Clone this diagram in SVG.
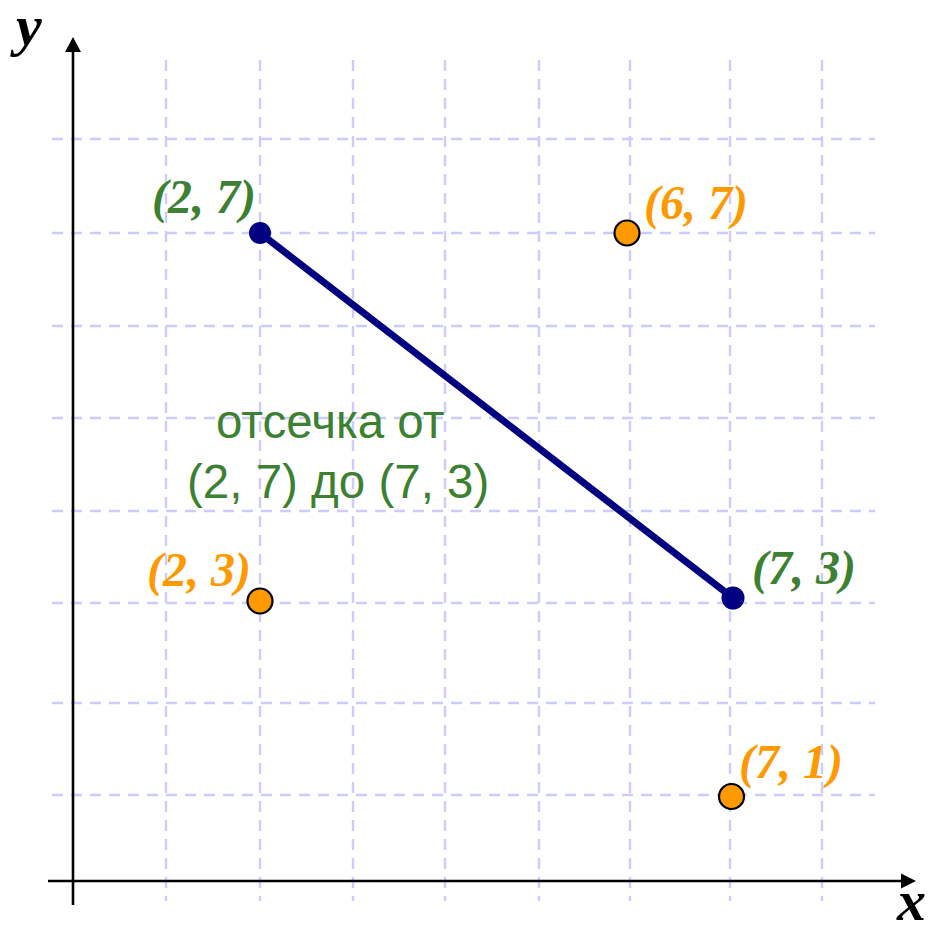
<svg xmlns="http://www.w3.org/2000/svg" width="930" height="925" viewBox="0 0 930 925">
<style>
.grid{stroke:#ccccff;stroke-width:2.4;stroke-dasharray:11 8;fill:none}
.axis{stroke:#000;stroke-width:2.6;fill:none}
.lbl{font-family:"Liberation Serif","Times New Roman",serif;font-style:italic;font-weight:bold;font-size:48px}
.green{fill:#3c8032}
.orange{fill:#ff9900}
.ax{font-family:"Liberation Serif","Times New Roman",serif;font-style:italic;font-weight:bold;font-size:58px;fill:#000}
.cap{font-family:"Liberation Sans",Arial,sans-serif;font-size:47.5px;fill:#3c8032}
.opt{fill:#ff9900;stroke:#000;stroke-width:2.2}
.seg{fill:#000080}
</style>
<rect width="930" height="925" fill="#fff"/>
<g id="grid">
<path class="grid" d="M166 60V901M260 60V901M353 60V901M445 60V901M539 60V901M630 60V901M730 60V901M822 60V901"/>
<path class="grid" d="M52 139H875M52 233H875M52 326H875M52 418H875M52 511H875M52 603H875M52 703H875M52 795H875"/>
</g>
<g id="axes">
<path class="axis" d="M73 905V50"/>
<polygon points="73,37 65,52 81,52" fill="#000"/>
<path class="axis" d="M48 881H903"/>
<polygon points="916,881 901,873.5 901,888.5" fill="#000"/>
<text class="ax" x="16" y="45">y</text>
<text class="ax" x="897" y="920">x</text>
</g>
<g id="connectors">
<line x1="260" y1="233" x2="733" y2="598" stroke="#000080" stroke-width="7"/>
</g>
<g id="p27">
<circle class="seg" cx="260" cy="233" r="11"/>
<text class="lbl green" x="152" y="213">(2, 7)</text>
</g>
<g id="p73">
<circle class="seg" cx="733" cy="598" r="11.5"/>
<text class="lbl green" x="752" y="584">(7, 3)</text>
</g>
<g id="p67">
<circle class="opt" cx="627" cy="233" r="12.5"/>
<text class="lbl orange" x="644" y="219">(6, 7)</text>
</g>
<g id="p23">
<circle class="opt" cx="260" cy="601" r="12.5"/>
<text class="lbl orange" x="147" y="586">(2, 3)</text>
</g>
<g id="p71">
<circle class="opt" cx="731.5" cy="796.5" r="12.5"/>
<text class="lbl orange" x="739" y="778">(7, 1)</text>
</g>
<g id="caption">
<text class="cap" x="216" y="438">отсечка от</text>
<text class="cap" x="187" y="498">(2, 7) до (7, 3)</text>
</g>
</svg>
